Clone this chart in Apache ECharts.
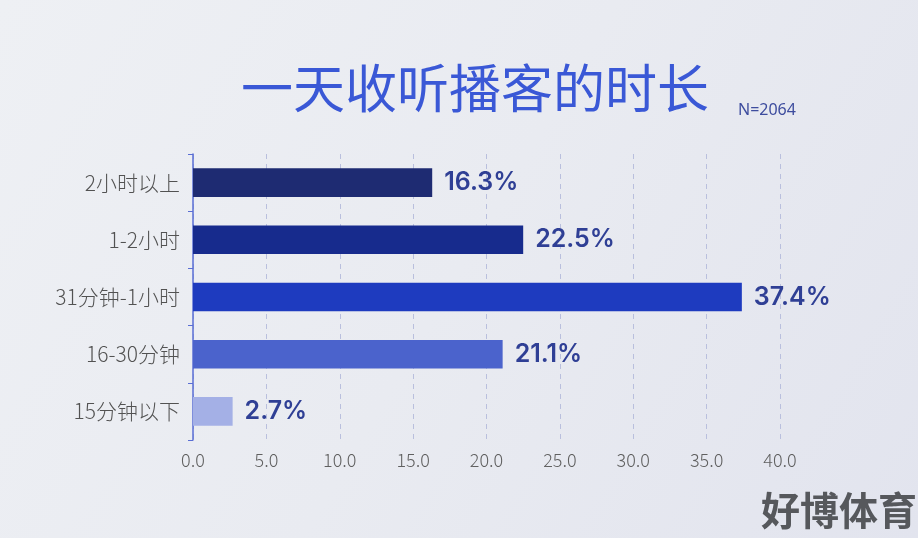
<!DOCTYPE html>
<html><head><meta charset="utf-8">
<script src="https://cdn.jsdelivr.net/npm/echarts@6/dist/echarts.min.js"></script>
<style>html,body{margin:0;padding:0;}#c{width:918px;height:538px;}</style>
</head><body><div id="c"></div>
<script>
const categories = ['2小时以上','1-2小时','31分钟-1小时','16-30分钟','15分钟以下'];
const values = [16.3, 22.5, 37.4, 21.1, 2.7];
const barColors = ['#1e2b72','#172b8d','#1e3bbf','#4b63cc','#a4b0e6'];
const xTicks = [0,5,10,15,20,25,30,35,40];

const chart = echarts.init(document.getElementById('c'));
chart.setOption({
  backgroundColor: new echarts.graphic.LinearGradient(0,0,1,1,[
    {offset:0,color:'#eef0f4'},{offset:0.5,color:'#e9ebf1'},{offset:1,color:'#e2e4ee'}]),
  title: [{
    text: '一天收听播客的时长',
    left: 236, top: 57,
    textStyle: {fontFamily:'Noto Sans CJK SC', fontSize: 52, fontWeight: 'normal', color:'#3a58d6'}
  },{
    text: 'N=2064',
    left: 733, top: 97,
    textStyle: {fontFamily:'Noto Sans', fontSize: 16, fontWeight:'normal', color:'#3d4c9e'}
  }],
  graphic: [{
    type:'text', left: 761, top: 491,
    style: {text:'好博体育', font:'bold 39px "Noto Sans CJK SC"', fill:'#56585c'}
  }],
  grid: {left: 193, right: 138, top: 154, bottom: 98, containLabel: false},
  xAxis: {
    type: 'value', min: 0, max: 40, interval: 5,
    axisLine: {show:false}, axisTick: {show:false},
    axisLabel: {color:'#606060', fontSize: 18, fontFamily:'Noto Sans CJK SC', fontWeight: 300, margin: 11,
      formatter: v => v.toFixed(1)},
    splitLine: {show:true, lineStyle:{type:[5,5], color:'#b9bfdd', width:1}}
  },
  yAxis: {
    type: 'category', data: categories, inverse: true,
    axisLine: {show:true, lineStyle:{color:'#5a6ed4', width:1.5}},
    axisTick: {show:true, inside:false, length:5, lineStyle:{color:'#5a6ed4'}},
    axisLabel: {color:'#525252', fontSize: 21, fontFamily:'Noto Sans CJK SC', fontWeight: 300, margin: 13}
  },
  series: [{
    type: 'bar',
    data: values.map((v,i)=>({value:v, itemStyle:{color:barColors[i]}})),
    barWidth: '50%',
    label: {show:true, position:'right', distance: 12,
      formatter: p => p.value.toFixed(1)+'%',
      color:'#2f3f95', fontSize: 25, fontWeight: 600, fontFamily:'Inter'}
  }]
});
</script></body></html>
